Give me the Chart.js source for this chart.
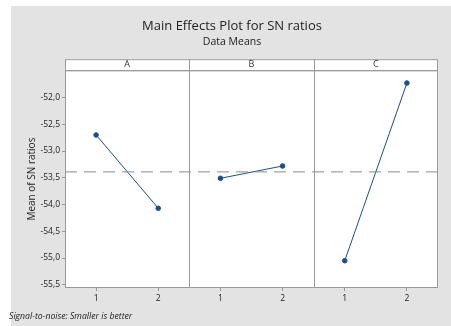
<!DOCTYPE html>
<html>
<head>
<meta charset="utf-8">
<script src="https://cdn.jsdelivr.net/npm/chart.js@4"></script>
<style>
  html, body { margin: 0; padding: 0; background: #fff; }
  #wrap { width: 451px; height: 326px; }
</style>
</head>
<body>
<div id="wrap"><canvas id="effects"></canvas></div>
<script>
const factors = ['A', 'B', 'C'];
const levels = [1, 2];
const meansA = [-52.70, -54.07];
const meansB = [-53.51, -53.28];
const meansC = [-55.05, -51.73];
const yTicks = [-52.0, -52.5, -53.0, -53.5, -54.0, -54.5, -55.0, -55.5];

const allMeans = [meansA, meansB, meansC];
const overallMean = allMeans.flat().reduce((s, v) => s + v, 0) / allMeans.flat().length;

const BLUE = '#1c4f8f';
const FONT = '"Open Sans", "Noto Sans", sans-serif';

// each factor lives in its own panel, 2 units wide on a shared x scale
const panelX = (f, lvl) => f * levels.length + lvl;

const factorSets = allMeans.map((means, f) => ({
  label: factors[f],
  data: means.map((m, i) => ({ x: panelX(f, levels[i]), y: m })),
  borderColor: BLUE,
  backgroundColor: BLUE,
  borderWidth: 1,
  pointRadius: 2.3,
  pointHoverRadius: 2.3,
  tension: 0
}));

const refSet = {
  label: 'mean',
  data: [{ x: 0.5, y: overallMean }, { x: 6.5, y: overallMean }],
  borderColor: '#8a8a8a',
  borderWidth: 1,
  borderDash: [12, 7],
  pointRadius: 0
};

const minitabLook = {
  id: 'minitabLook',
  beforeDraw(chart) {
    const { ctx, width, height } = chart;
    ctx.save();
    ctx.fillStyle = '#fff';
    ctx.fillRect(0, 0, width, height);
    ctx.fillStyle = '#e3e3e3';
    ctx.fillRect(11, 6, width - 11, height - 6);
    const a = chart.chartArea;
    ctx.fillStyle = '#fff';
    ctx.fillRect(a.left, a.top, a.right - a.left, a.bottom - a.top);
    ctx.restore();
  },
  afterDraw(chart) {
    const { ctx } = chart;
    const a = chart.chartArea;
    const x = chart.scales.x;
    const stripTop = a.top - 11;
    ctx.save();
    ctx.strokeStyle = '#999';
    ctx.lineWidth = 1;
    // strip header
    ctx.fillStyle = '#fff';
    ctx.fillRect(a.left, stripTop, a.right - a.left, a.top - stripTop);
    ctx.strokeRect(a.left + 0.5, stripTop + 0.5, a.right - a.left - 1, a.top - stripTop);
    ctx.strokeRect(a.left + 0.5, a.top + 0.5, a.right - a.left - 1, a.bottom - a.top - 1);
    ctx.fillStyle = '#333';
    ctx.font = '9px ' + FONT;
    ctx.textAlign = 'center';
    ctx.textBaseline = 'middle';
    factors.forEach((f, i) => {
      const l = x.getPixelForValue(i * 2 + 0.5);
      const r = x.getPixelForValue(i * 2 + 2.5);
      if (i > 0) {
        const px = Math.round(l) + 0.5;
        ctx.beginPath();
        ctx.moveTo(px, stripTop);
        ctx.lineTo(px, a.bottom);
        ctx.stroke();
      }
      ctx.fillText(f, (l + r) / 2, stripTop + 5.5);
    });
    // footnote
    ctx.font = 'italic 8.7px ' + FONT;
    ctx.textAlign = 'left';
    ctx.fillStyle = '#222';
    ctx.fillText('Signal-to-noise: Smaller is better', 9, 317);
    ctx.restore();
  }
};

new Chart(document.getElementById('effects'), {
  type: 'line',
  data: { datasets: [refSet, ...factorSets] },
  plugins: [minitabLook],
  options: {
    responsive: true,
    maintainAspectRatio: false,
    animation: false,
    events: [],
    layout: { padding: { left: 26, right: 13, top: 0, bottom: 0 } },
    plugins: {
      legend: { display: false },
      tooltip: { enabled: false },
      title: {
        display: true,
        text: 'Main Effects Plot for SN ratios',
        color: '#222',
        font: { family: FONT, size: 13, weight: 'normal' },
        padding: { top: 18, bottom: 1 }
      },
      subtitle: {
        display: true,
        text: 'Data Means',
        color: '#222',
        font: { family: FONT, size: 10.5 },
        padding: { top: 1, bottom: 22 }
      }
    },
    scales: {
      x: {
        type: 'linear',
        min: 0.5,
        max: 6.5,
        afterBuildTicks: (scale) => {
          scale.ticks = factors.flatMap((f, i) => levels.map(l => ({ value: panelX(i, l) })));
        },
        afterFit: (scale) => { scale.height = 38; },
        ticks: {
          color: '#222',
          font: { family: FONT, size: 8.5 },
          padding: 2,
          callback: (v) => levels[(v - 1) % levels.length]
        },
        grid: { drawOnChartArea: false, tickLength: 3, color: '#999' },
        border: { display: false }
      },
      y: {
        min: -55.56,
        max: -51.49,
        afterBuildTicks: (scale) => {
          scale.ticks = yTicks.map(v => ({ value: v }));
        },
        afterFit: (scale) => { scale.width = 39; },
        ticks: {
          color: '#222',
          font: { family: FONT, size: 8.5 },
          padding: 2,
          callback: (v) => v.toFixed(1).replace('.', ',')
        },
        grid: { drawOnChartArea: false, tickLength: 3, color: '#999' },
        border: { display: false },
        title: {
          display: true,
          text: 'Mean of SN ratios',
          color: '#222',
          font: { family: FONT, size: 10 },
          padding: { top: 0, bottom: 2 }
        }
      }
    }
  }
});
</script>
</body>
</html>
